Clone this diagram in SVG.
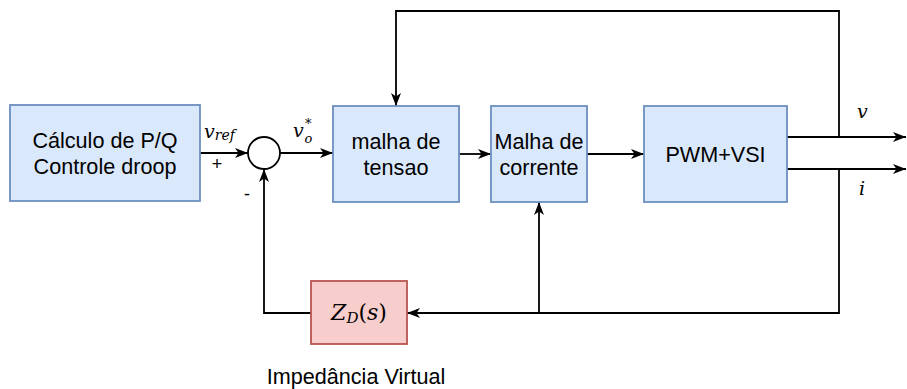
<svg xmlns="http://www.w3.org/2000/svg" width="907" height="389" viewBox="0 0 907 389">
<defs>
<marker id="arr" markerUnits="userSpaceOnUse" markerWidth="14" markerHeight="12" refX="13" refY="6" orient="auto">
<path d="M0,1 L13,6 L0,11 L3.5,6 Z" fill="#000"/>
</marker>
</defs>
<style>
.blk{fill:#dae8fc;stroke:#6c8ebf;stroke-width:1.8}
.red{fill:#f8cecc;stroke:#b85450;stroke-width:1.8}
.t{font-family:"Liberation Sans",Arial,sans-serif;font-size:21.6px;fill:#000;text-anchor:middle}
.m{font-family:"DejaVu Serif","Liberation Serif",serif;font-style:italic;fill:#000}
.s{font-family:"Liberation Sans",Arial,sans-serif;font-size:18px;fill:#000;text-anchor:middle}
.ca{fill:none;stroke:#000;stroke-width:1.8;marker-end:url(#arr)}
</style>
<rect width="907" height="389" fill="#fff"/>
<g id="connectors">
<path class="ca" d="M200,153 H248"/>
<path class="ca" d="M280,153 H333"/>
<path class="ca" d="M459,154 H491"/>
<path class="ca" d="M587,154 H644"/>
<path class="ca" d="M787,137 H906"/>
<path class="ca" d="M787,169 H906"/>
<path class="ca" d="M839,137 V11 H396 V106"/>
<path class="ca" d="M839,169 V313 H407"/>
<path class="ca" d="M539,313 V202"/>
<path class="ca" d="M311,313 H264 V169"/>
</g>
<g id="calc">
<rect class="blk" x="10" y="105" width="190" height="96"/>
<text class="t" x="105" y="148">Cálculo de P/Q</text>
<text class="t" x="105" y="174">Controle droop</text>
</g>
<g id="sum">
<circle cx="264" cy="153" r="16" fill="#fff" stroke="#000" stroke-width="1.8"/>
<text class="s" x="217" y="170">+</text>
<text class="s" x="247" y="200">-</text>
</g>
<g id="vref">
<text class="m" x="204" y="138" font-size="19">v<tspan font-size="14" dy="2">ref</tspan></text>
</g>
<g id="vo">
<text class="m" x="293" y="137" font-size="19">v<tspan font-style="normal" font-size="13" x="305" dy="-9">*</tspan><tspan font-size="13" x="304.5" dy="15">o</tspan></text>
</g>
<g id="tensao">
<rect class="blk" x="333" y="106" width="126" height="96"/>
<text class="t" x="396" y="148.5">malha de</text>
<text class="t" x="396" y="174.5">tensao</text>
</g>
<g id="corrente">
<rect class="blk" x="491" y="106" width="96" height="96"/>
<text class="t" x="539" y="148.5">Malha de</text>
<text class="t" x="539" y="174.5">corrente</text>
</g>
<g id="pwm">
<rect class="blk" x="644" y="106" width="143" height="96"/>
<text class="t" x="715.5" y="161.5">PWM+VSI</text>
</g>
<g id="labels">
<text class="m" x="857" y="118" font-size="19">v</text>
<text class="m" x="859" y="195" font-size="19">i</text>
</g>
<g id="zd">
<rect class="red" x="311" y="281" width="96" height="63"/>
<text class="m" x="359" y="320" font-size="22" text-anchor="middle">Z<tspan font-size="15" dy="3">D</tspan><tspan font-style="normal" dy="-3">(</tspan>s<tspan font-style="normal">)</tspan></text>
<text class="t" x="356" y="384">Impedância Virtual</text>
</g>
</svg>
